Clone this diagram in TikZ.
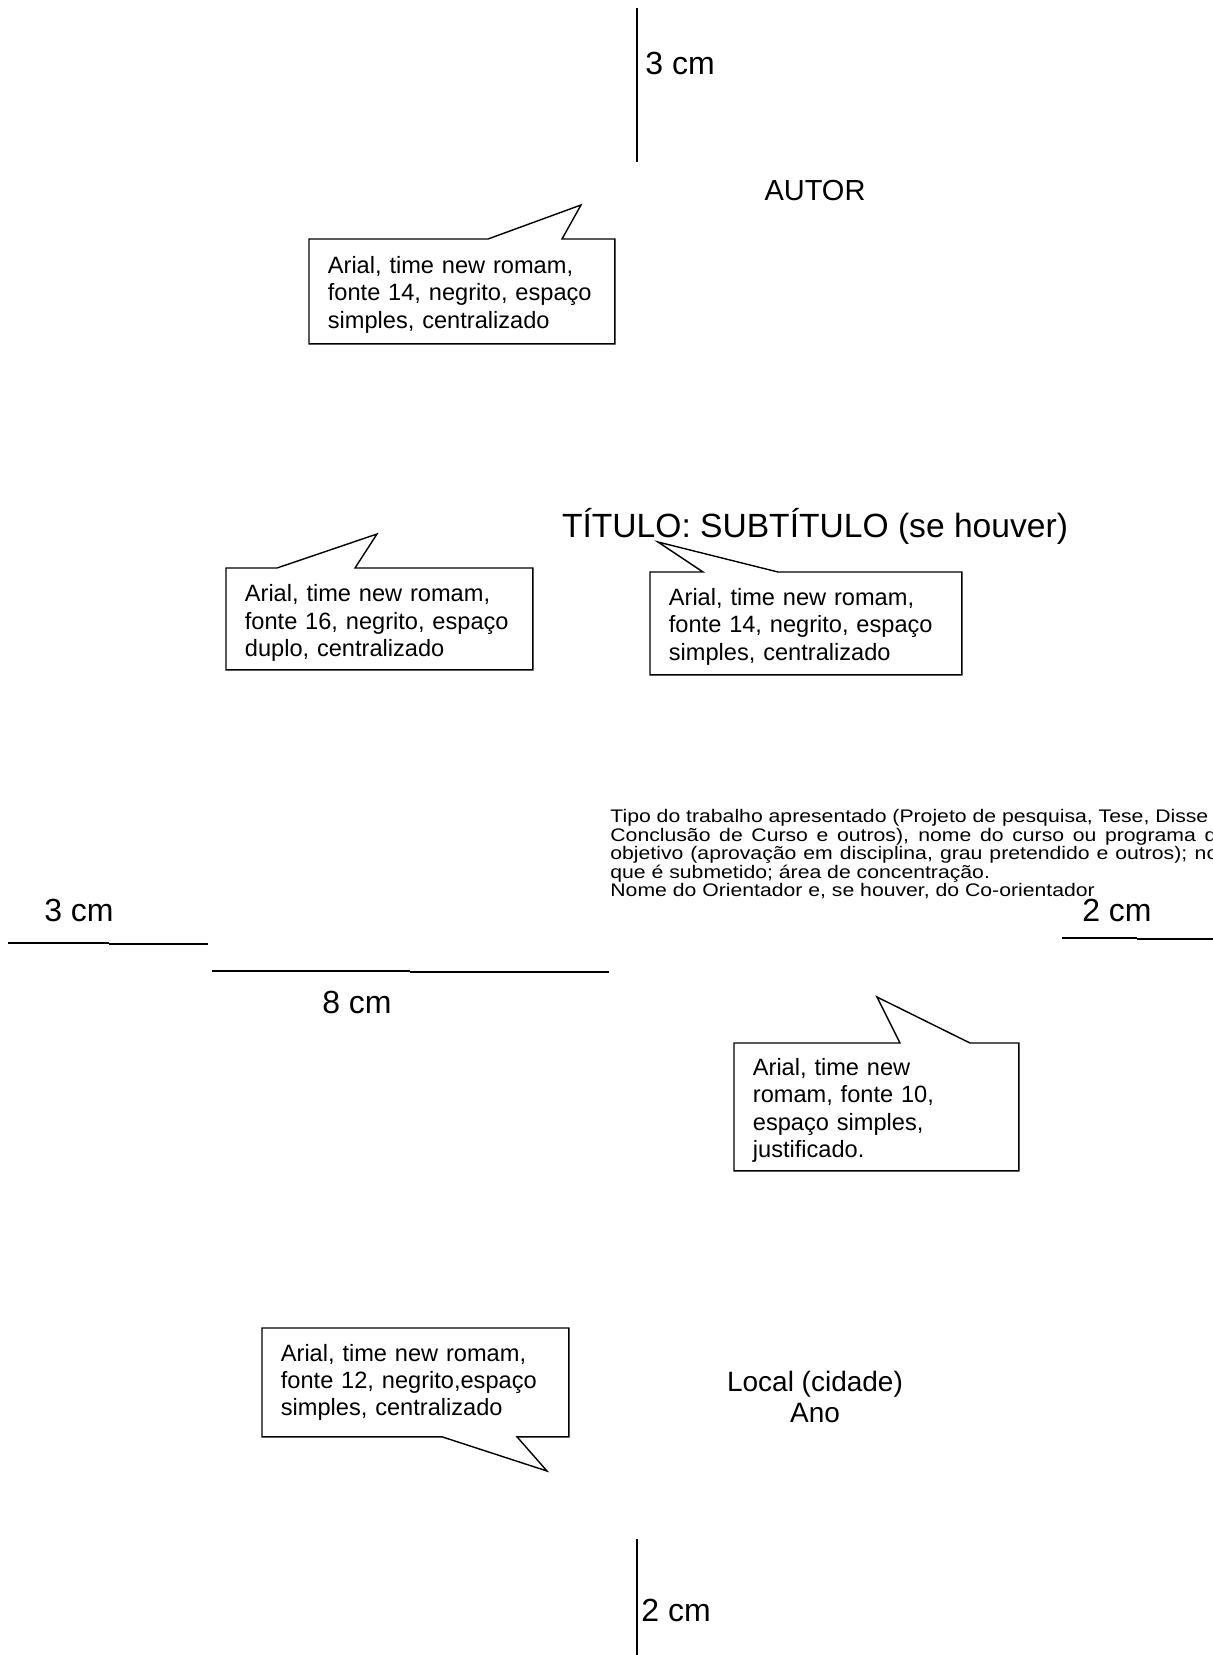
\documentclass[tikz,border=0pt]{standalone}
\usepackage{fontspec}
\setmainfont{Liberation Sans}
\newfontfamily\largafont[FakeStretch=1.165]{Liberation Sans}
\usetikzlibrary{positioning}
\lineskiplimit=-20pt
\hyphenpenalty=10000
\tikzstyle{balloon} = [align=left, anchor=north west, inner xsep=9.25pt, inner ysep=0pt,
    font=\fontsize{11.8}{13.7}\selectfont]
\tikzstyle{bline} = [draw, line width=0.7pt, line join=miter]
\tikzstyle{dimline} = [draw, line width=1pt]
\tikzstyle{dimtext} = [font=\fontsize{16}{18}\selectfont]

\begin{document}
\begin{tikzpicture}[x=0.5pt,y=-0.5pt,every node/.style={inner sep=0pt}]
  \useasboundingbox (0,0) rectangle (1213,1655);

  % margens
  \coordinate (topo_a) at (637,8);
  \coordinate (topo_b) at (637,162);
  \draw[dimline] (topo_a) -- (topo_b);
  \node[dimtext,anchor=west] (topo_cm) at (645,63) {3 cm};

  \coordinate (esq_a) at (8,943);
  \coordinate (esq_b) at (109,943);
  \coordinate (esq_c) at (109,944);
  \coordinate (esq_d) at (208,944);
  \draw[dimline] (esq_a) -- (esq_b) (esq_c) -- (esq_d);
  \node[dimtext] (esq_cm) at (79,910) {3 cm};

  \coordinate (larg_a) at (212,971);
  \coordinate (larg_b) at (410,971);
  \coordinate (larg_c) at (410,972);
  \coordinate (larg_d) at (609,972);
  \draw[dimline] (larg_a) -- (larg_b) (larg_c) -- (larg_d);
  \node[dimtext] (larg_cm) at (357,1002) {8 cm};

  \coordinate (dir_a) at (1062,938);
  \coordinate (dir_b) at (1137,938);
  \coordinate (dir_c) at (1137,939);
  \coordinate (dir_d) at (1213,939);
  \draw[dimline] (dir_a) -- (dir_b) (dir_c) -- (dir_d);

  \coordinate (base_a) at (637,1539);
  \coordinate (base_b) at (637,1655);
  \draw[dimline] (base_a) -- (base_b);
  \node[dimtext,anchor=west] (base_cm) at (641,1610) {2 cm};

  % textos da capa
  \node[font=\fontsize{14.5}{16}\selectfont] (autor) at (815,191) {AUTOR};
  \node[font=\fontsize{16.8}{19}\selectfont] (titulo) at (815,526) {TÍTULO: SUBTÍTULO (se houver)};
  \node[font=\largafont\fontsize{9.1}{9.25}\selectfont, align=left, anchor=north west] (natureza) at (610,809)
    {Tipo do trabalho apresentado (Projeto de pesquisa, Tese, Disse\\
     \makebox[303pt][s]{Conclusão de Curso e outros), nome do curso ou programa d}\\
     \makebox[304pt][s]{objetivo (aprovação em disciplina, grau pretendido e outros); no}\\
     que é submetido; área de concentração.\\
     Nome do Orientador e, se houver, do Co-orientador};
  \node[dimtext] (dir_cm) at (1117,910) {2 cm};
  \node[font=\fontsize{14}{15.3}\selectfont, align=center] (local) at (815,1397) {Local (cidade)\\Ano};

  % balões
  \node[balloon, text width=134pt, minimum height=52pt] (autor_box) at (309,239)
    {\rule{0pt}{11.8pt}Arial, time new romam,\\fonte 14, negrito, espaço\\simples, centralizado};
  \coordinate (autor_tip) at (581,205);
  \draw[bline] (autor_box.north west) -- ([xshift=89.5pt]autor_box.north west) -- (autor_tip)
    -- ([xshift=126.5pt]autor_box.north west) -- (autor_box.north east)
    -- (autor_box.south east) -- (autor_box.south west) -- cycle;

  \node[balloon, text width=134.5pt, minimum height=50.5pt] (titulo_box) at (226,568)
    {\rule{0pt}{12.8pt}Arial, time new romam,\\fonte 16, negrito, espaço\\duplo, centralizado};
  \coordinate (titulo_tip) at (377,534);
  \draw[bline] (titulo_box.north west) -- ([xshift=25.5pt]titulo_box.north west) -- (titulo_tip)
    -- ([xshift=64.5pt]titulo_box.north west) -- (titulo_box.north east)
    -- (titulo_box.south east) -- (titulo_box.south west) -- cycle;

  \node[balloon, text width=137pt, minimum height=51pt] (sub_box) at (650,572)
    {\rule{0pt}{11.8pt}Arial, time new romam,\\fonte 14, negrito, espaço\\simples, centralizado};
  \coordinate (sub_tip) at (658,542);
  \draw[bline] (sub_box.north west) -- ([xshift=26.5pt]sub_box.north west) -- (sub_tip)
    -- ([xshift=64pt]sub_box.north west) -- (sub_box.north east)
    -- (sub_box.south east) -- (sub_box.south west) -- cycle;

  \node[balloon, text width=123.5pt, minimum height=63.5pt] (nat_box) at (734,1043)
    {\rule{0pt}{12pt}Arial, time new\\romam, fonte 10,\\espaço simples,\\justificado.};
  \coordinate (nat_tip) at (877,997);
  \draw[bline] (nat_box.north west) -- ([xshift=83pt]nat_box.north west) -- (nat_tip)
    -- ([xshift=118pt]nat_box.north west) -- (nat_box.north east)
    -- (nat_box.south east) -- (nat_box.south west) -- cycle;

  \node[balloon, text width=134.5pt, minimum height=54pt] (local_box) at (262,1328)
    {Arial, time new romam,\\fonte 12, negrito,espaço\\simples, centralizado};
  \coordinate (local_tip) at (547,1471);
  \draw[bline] (local_box.north west) -- (local_box.north east) -- (local_box.south east)
    -- ([xshift=127.5pt]local_box.south west) -- (local_tip)
    -- ([xshift=90pt]local_box.south west) -- (local_box.south west) -- cycle;
\end{tikzpicture}
\end{document}
